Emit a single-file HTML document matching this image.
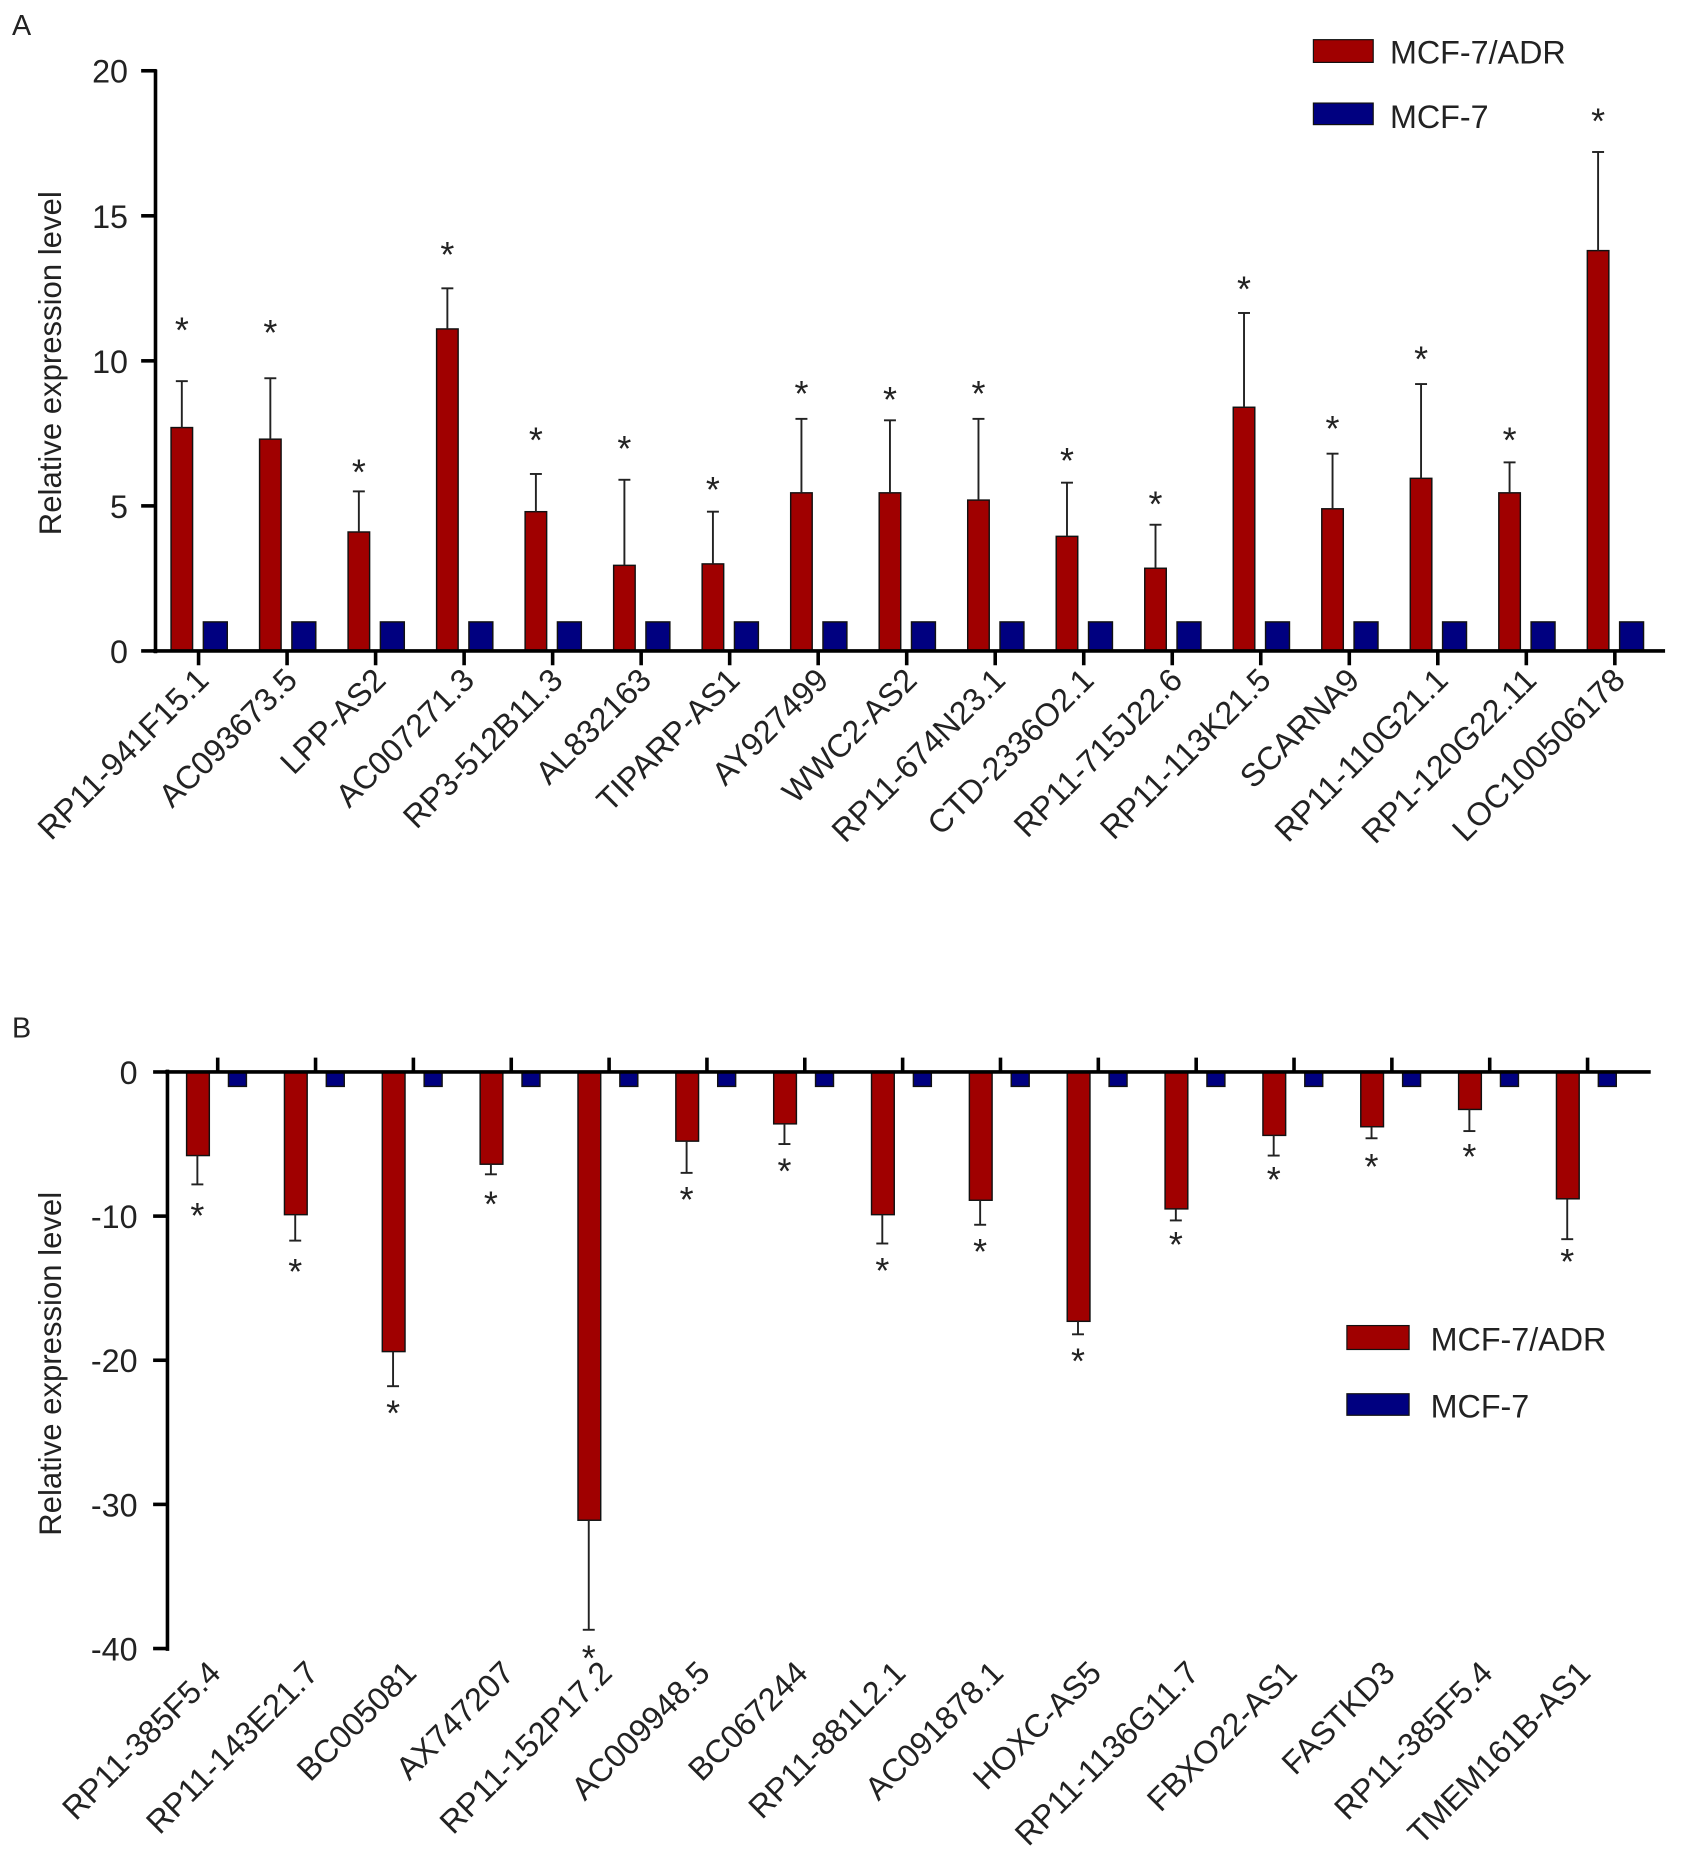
<!DOCTYPE html>
<html><head><meta charset="utf-8"><style>
html,body{margin:0;padding:0;background:#fff;}
svg{display:block;}
text{font-family:"Liberation Sans",Arial,sans-serif;fill:#222;}
</style></head><body>
<svg id="fig" width="1689" height="1876" viewBox="0 0 1412 1568" xmlns="http://www.w3.org/2000/svg">
<rect width="1412" height="1568" fill="#fff"/>
<g id="pa"></g>
<g id="pb"></g>
</svg>
<script>
// Panel A data
const catsA = ["RP11-941F15.1","AC093673.5","LPP-AS2","AC007271.3","RP3-512B11.3","AL832163","TIPARP-AS1","AY927499","WWC2-AS2","RP11-674N23.1","CTD-2336O2.1","RP11-715J22.6","RP11-113K21.5","SCARNA9","RP11-110G21.1","RP1-120G22.11","LOC100506178"];
const adrA = [7.7,7.3,4.1,11.1,4.8,2.95,3.0,5.45,5.45,5.2,3.95,2.85,8.4,4.9,5.95,5.45,13.8];
const errA = [9.3,9.4,5.5,12.5,6.1,5.9,4.8,8.0,7.95,8.0,5.8,4.35,11.65,6.8,9.2,6.5,17.2];
const starA = [11.3,11.2,6.4,13.9,7.5,7.2,5.8,9.1,8.9,9.1,6.8,5.3,12.7,7.9,10.3,7.5,18.5];
const mcfA = [1,1,1,1,1,1,1,1,1,1,1,1,1,1,1,1,1];
const ticksA = [0,5,10,15,20];
// Panel B data
const catsB = ["RP11-385F5.4","RP11-143E21.7","BC005081","AX747207","RP11-152P17.2","AC009948.5","BC067244","RP11-881L2.1","AC091878.1","HOXC-AS5","RP11-1136G11.7","FBXO22-AS1","FASTKD3","RP11-385F5.4","TMEM161B-AS1"];
const adrB = [-5.8,-9.9,-19.4,-6.4,-31.1,-4.8,-3.6,-9.9,-8.9,-17.3,-9.5,-4.4,-3.8,-2.6,-8.8];
const errB = [-7.8,-11.7,-21.8,-7.1,-38.7,-7.0,-5.0,-11.9,-10.6,-18.2,-10.3,-5.8,-4.6,-4.1,-11.6];
const starB = [-9.5,-13.4,-23.2,-8.7,-40.2,-8.4,-6.4,-13.3,-12.0,-19.6,-11.5,-7.0,-6.1,-5.4,-12.7];
const mcfB = [-1,-1,-1,-1,-1,-1,-1,-1,-1,-1,-1,-1,-1,-1,-1];
const ticksB = [0,-10,-20,-30,-40];

const NS="http://www.w3.org/2000/svg";
function mk(p,tag,attrs,txt){const e=document.createElementNS(NS,tag);for(const k in attrs)e.setAttribute(k,attrs[k]);if(txt!=null)e.textContent=txt;p.appendChild(e);return e;}

// ---------- Panel A ----------
const A=document.getElementById('pa');
const yA=v=>544-v*24.25;
const xA=i=>166+74*i;
let t=mk(A,'text',{x:10,y:29,'font-size':24},'A');


t=mk(A,'text',{x:0,y:0,'font-size':26,'text-anchor':'middle',transform:`translate(51,${(yA(0)+yA(20))/2+2}) rotate(-90)`},'Relative expression level');


ticksA.forEach(v=>{
  mk(A,'line',{x1:118,x2:131,y1:yA(v),y2:yA(v),stroke:'#000','stroke-width':3});
  const l=mk(A,'text',{x:107,y:yA(v)+10,'font-size':27,'text-anchor':'end'},v);
  
  
});
catsA.forEach((c,i)=>{
  const x=xA(i);
  const r=mk(A,'rect',{x:x-23,y:yA(adrA[i]),width:18,height:yA(0)-yA(adrA[i]),fill:'#a00000',stroke:'#111','stroke-width':1.2});
  
  
  const b=mk(A,'rect',{x:x+4,y:yA(mcfA[i]),width:20,height:yA(0)-yA(mcfA[i]),fill:'#000080',stroke:'#111','stroke-width':1.2});
  
  
  mk(A,'line',{x1:x-14,x2:x-14,y1:yA(adrA[i]),y2:yA(errA[i]),stroke:'#222','stroke-width':1.6});
  mk(A,'line',{x1:x-19,x2:x-9,y1:yA(errA[i]),y2:yA(errA[i]),stroke:'#222','stroke-width':1.6});
  const s=mk(A,'text',{x:x-14,y:yA(starA[i])+16,'font-size':30,'text-anchor':'middle',fill:'#444'},'*');
  
  
  mk(A,'line',{x1:x,x2:x,y1:544,y2:556,stroke:'#000','stroke-width':3});
  const l=mk(A,'text',{x:0,y:0,'font-size':27,'text-anchor':'end',transform:`translate(${x+10},${570}) rotate(-45)`},c);
  
  
});
mk(A,'line',{x1:130,x2:130,y1:58,y2:546,stroke:'#000','stroke-width':3});
mk(A,'line',{x1:128,x2:1392,y1:544,y2:544,stroke:'#000','stroke-width':3});
let lg=mk(A,'g',{});


mk(lg,'rect',{x:1098,y:33,width:50,height:19,fill:'#a00000',stroke:'#111'});
mk(lg,'text',{x:1162,y:53,'font-size':27},'MCF-7/ADR');
mk(lg,'rect',{x:1098,y:86,width:50,height:18,fill:'#000080',stroke:'#111'});
mk(lg,'text',{x:1162,y:107,'font-size':27},'MCF-7');

// ---------- Panel B ----------
const B=document.getElementById('pb');
const yB=v=>896-v*12.05;
const xB=i=>182+81.8*i;
t=mk(B,'text',{x:10,y:867,'font-size':24},'B');


t=mk(B,'text',{x:0,y:0,'font-size':26,'text-anchor':'middle',transform:`translate(51,${(yB(0)+yB(-40))/2+3}) rotate(-90)`},'Relative expression level');


ticksB.forEach(v=>{
  mk(B,'line',{x1:128,x2:141,y1:yB(v),y2:yB(v),stroke:'#000','stroke-width':3});
  const l=mk(B,'text',{x:115,y:yB(v)+10,'font-size':27,'text-anchor':'end'},v);
  
  
});
catsB.forEach((c,i)=>{
  const x=xB(i);
  const r=mk(B,'rect',{x:x-26,y:yB(0),width:19,height:yB(adrB[i])-yB(0),fill:'#a00000',stroke:'#111','stroke-width':1.2});
  
  
  const b=mk(B,'rect',{x:x+9,y:yB(0),width:15,height:yB(mcfB[i])-yB(0),fill:'#000080',stroke:'#111','stroke-width':1.2});
  
  
  mk(B,'line',{x1:x-17,x2:x-17,y1:yB(adrB[i]),y2:yB(errB[i]),stroke:'#222','stroke-width':1.6});
  mk(B,'line',{x1:x-22,x2:x-12,y1:yB(errB[i]),y2:yB(errB[i]),stroke:'#222','stroke-width':1.6});
  const s=mk(B,'text',{x:x-17,y:yB(starB[i])+16,'font-size':30,'text-anchor':'middle',fill:'#444'},'*');
  
  
  mk(B,'line',{x1:x,x2:x,y1:884,y2:896,stroke:'#000','stroke-width':3});
  const l=mk(B,'text',{x:0,y:0,'font-size':27,'text-anchor':'end',transform:`translate(${x+4},${1400}) rotate(-45)`},c);
  
  
});
mk(B,'line',{x1:140,x2:140,y1:894,y2:1380,stroke:'#000','stroke-width':3});
mk(B,'line',{x1:138,x2:1380,y1:896,y2:896,stroke:'#000','stroke-width':3});
lg=mk(B,'g',{});


mk(lg,'rect',{x:1126,y:1108,width:52,height:20,fill:'#a00000',stroke:'#111'});
mk(lg,'text',{x:1196,y:1129,'font-size':27},'MCF-7/ADR');
mk(lg,'rect',{x:1126,y:1165,width:52,height:18,fill:'#000080',stroke:'#111'});
mk(lg,'text',{x:1196,y:1185,'font-size':27},'MCF-7');
</script>
</body></html>
